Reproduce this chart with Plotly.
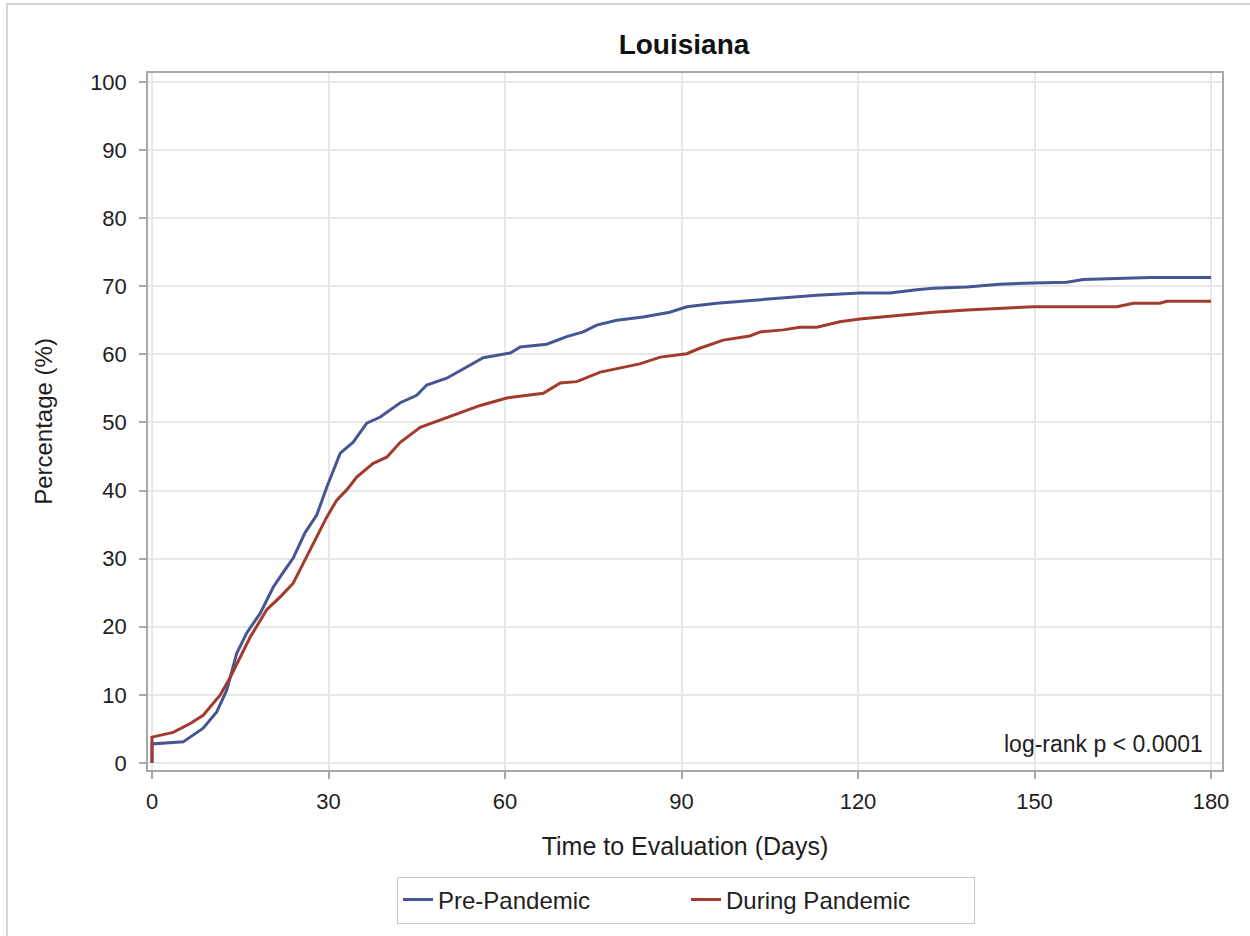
import plotly.graph_objects as go

# Pre-Pandemic (blue)
pre_days = [0, 0, 5.3, 8.7, 11.0, 12.7, 14.4, 16.1, 18.4, 20.6, 22.3, 24.0, 26.0, 28.0, 29.7, 32.0,
            34.2, 36.5, 38.8, 42.2, 45.0, 46.7, 50.1, 53.5, 56.3, 60.9, 62.6, 67.1, 70.5, 73.3,
            75.6, 79.0, 83.5, 88.0, 90.9, 96.0, 101.6, 107.3, 113.0, 120.3, 125.4, 130.0, 132.8,
            138.5, 144.1, 149.8, 155.5, 158.3, 164.0, 169.6, 180]
pre_pct = [0, 2.8, 3.1, 5.1, 7.5, 10.7, 16.1, 19.1, 22.0, 25.8, 28.0, 30.1, 33.8, 36.4, 40.5, 45.5,
           47.1, 49.9, 50.8, 52.9, 54.0, 55.5, 56.5, 58.2, 59.5, 60.2, 61.1, 61.5, 62.6, 63.3,
           64.3, 65.0, 65.5, 66.2, 67.0, 67.5, 67.9, 68.3, 68.7, 69.0, 69.0, 69.5, 69.7,
           69.9, 70.3, 70.5, 70.6, 71.0, 71.1, 71.3, 71.3]

# During Pandemic (red)
dur_days = [0, 0, 3.6, 6.5, 8.7, 11.6, 13.3, 15.0, 16.7, 19.5, 21.8, 24.0, 26.3, 28.0, 29.7, 31.4,
            33.1, 34.8, 37.6, 39.9, 42.2, 45.6, 47.8, 51.8, 55.8, 60.3, 66.5, 69.4, 72.2, 76.2,
            79.0, 82.9, 86.4, 90.9, 93.1, 97.1, 101.6, 103.4, 107.3, 110.1, 113.0, 116.9, 120.3,
            124.3, 127.1, 132.8, 138.5, 147.0, 149.8, 164.0, 166.8, 171.3, 172.5, 180]
dur_pct = [0, 3.8, 4.5, 5.8, 7.0, 10.0, 12.6, 15.6, 18.5, 22.5, 24.4, 26.4, 30.3, 33.2, 36.1, 38.6,
           40.1, 42.0, 44.0, 44.9, 47.1, 49.3, 50.0, 51.3, 52.5, 53.6, 54.3, 55.8, 56.0, 57.4,
           57.9, 58.6, 59.6, 60.1, 60.9, 62.1, 62.7, 63.3, 63.6, 64.0, 64.0, 64.8, 65.2,
           65.5, 65.8, 66.2, 66.5, 66.8, 67.0, 67.0, 67.5, 67.5, 67.8, 67.8]

x_ticks = [0, 30, 60, 90, 120, 150, 180]
y_ticks = [0, 10, 20, 30, 40, 50, 60, 70, 80, 90, 100]

FONT = "Liberation Sans, Arial, sans-serif"
AXIS = "#a3a9ac"
GRID = "#e8e8e8"
TXT = "#1e1e1e"

W, H = 1250, 936

fig = go.Figure()
fig.add_trace(go.Scatter(x=pre_days, y=pre_pct, mode="lines", name="Pre-Pandemic",
                         line=dict(color="#445694", width=3)))
fig.add_trace(go.Scatter(x=dur_days, y=dur_pct, mode="lines", name="During Pandemic",
                         line=dict(color="#A23A2E", width=3)))

fig.update_layout(
    width=W, height=H,
    margin=dict(l=148, r=W - 1222, t=73, b=H - 770),
    paper_bgcolor="white", plot_bgcolor="white",
    font=dict(family=FONT, size=22, color=TXT),
    title=dict(text="<b>Louisiana</b>", x=(684 - 148) / 1074, xref="paper", xanchor="center",
               y=1 - 44 / H, yref="container", yanchor="middle",
               font=dict(size=28, color="#111111")),
    showlegend=True,
    legend=dict(orientation="h", x=(686 - 148) / 1074, xanchor="center",
                y=(770 - 900) / 697, yanchor="middle",
                bordercolor="#c8c8c8", borderwidth=1, font=dict(size=24, color=TXT),
                traceorder="normal", entrywidth=243, entrywidthmode="pixels"),
    xaxis=dict(range=[-0.68, 181.87], tickvals=x_ticks, ticks="outside", ticklen=7,
               tickcolor=AXIS, tickwidth=1.5, showline=True, linecolor=AXIS, linewidth=1.5,
               mirror=True, showgrid=True, gridcolor=GRID, gridwidth=1.5, zeroline=False,
               tickfont=dict(size=22, color=TXT), ticklabelstandoff=4,
               title=dict(text="Time to Evaluation (Days)", font=dict(size=25, color=TXT),
                          standoff=24)),
    yaxis=dict(range=[-1.03, 101.32], tickvals=y_ticks, ticks="outside", ticklen=7,
               tickcolor=AXIS, tickwidth=1.5, showline=True, linecolor=AXIS, linewidth=1.5,
               mirror=True, showgrid=True, gridcolor=GRID, gridwidth=1.5, zeroline=False,
               tickfont=dict(size=22, color=TXT), ticklabelstandoff=8,
               title=dict(text="Percentage (%)", font=dict(size=24, color=TXT),
                          standoff=31)),
    annotations=[dict(text="log-rank p < 0.0001", xref="paper", yref="paper",
                      x=(1205 - 148) / 1074, y=(770 - 744) / 697, xanchor="right",
                      yanchor="middle", showarrow=False, font=dict(size=23, color=TXT))],
    shapes=[dict(type="rect", xref="paper", yref="paper",
                 x0=(7 - 148) / 1074, x1=1.05, y0=-0.3, y1=(770 - 4) / 697,
                 line=dict(color="#d4d4d4", width=2), layer="below")],
)

fig.write_html("out.html", config={"displayModeBar": False},
               post_script="document.body.style.margin='0px';")
